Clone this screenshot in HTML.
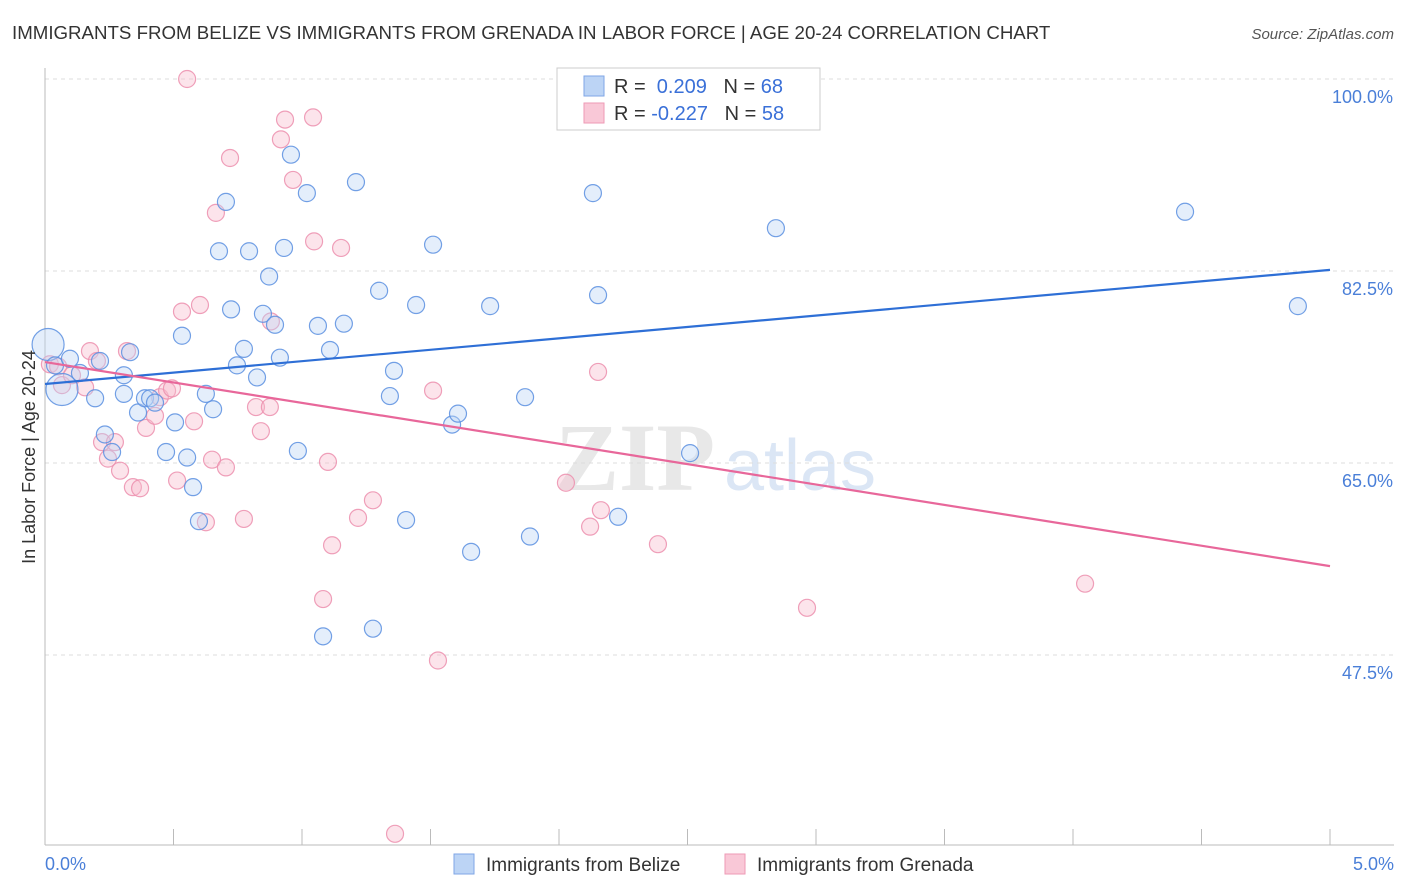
<!DOCTYPE html>
<html><head><meta charset="utf-8"><style>
body{margin:0;background:#fff;font-family:"Liberation Sans",sans-serif;}
#c{position:absolute;left:0;top:0;}
</style></head><body>
<svg id="c" width="1406" height="892" xmlns="http://www.w3.org/2000/svg">
<text x="12" y="39" font-size="18.7" fill="#333">IMMIGRANTS FROM BELIZE VS IMMIGRANTS FROM GRENADA IN LABOR FORCE | AGE 20-24 CORRELATION CHART</text>
<text x="1394" y="39" font-size="15" fill="#555" font-style="italic" text-anchor="end">Source: ZipAtlas.com</text>
<text x="635" y="490" font-size="96" fill="#e8e8e8" font-family="Liberation Serif,serif" font-weight="bold" text-anchor="middle">ZIP</text>
<text x="800" y="490" font-size="72" fill="#dbe6f5" text-anchor="middle">atlas</text>
<g id="grid"></g><g id="axes"></g><g id="pts"></g><g id="lines"></g>
<text x="35" y="457" font-size="18" fill="#333" text-anchor="middle" transform="rotate(-90 35 457)">In Labor Force | Age 20-24</text>
<text x="45" y="870" font-size="18" fill="#4a7fd8">0.0%</text>
<text x="1394" y="870" font-size="18" fill="#4a7fd8" text-anchor="end">5.0%</text>
<g>
<rect x="557" y="68" width="263" height="62" fill="#fff" stroke="#ccc"/>
<rect x="584" y="76" width="20" height="20" fill="#bcd4f5" stroke="#7fa6e6"/>
<rect x="584" y="103" width="20" height="20" fill="#f9c8d7" stroke="#ee9ab5"/>
<text x="614" y="93" font-size="20" fill="#333">R = <tspan fill="#3a70d8">&#160;0.209</tspan>&#160;&#160;&#160;N = <tspan fill="#3a70d8">68</tspan></text>
<text x="614" y="120" font-size="20" fill="#333">R = <tspan fill="#3a70d8">-0.227</tspan>&#160;&#160;&#160;N = <tspan fill="#3a70d8">58</tspan></text>
</g>
<g>
<rect x="454" y="854" width="20" height="20" fill="#bcd4f5" stroke="#7fa6e6"/>
<text x="486" y="871" font-size="19" fill="#333">Immigrants from Belize</text>
<rect x="725" y="854" width="20" height="20" fill="#f9c8d7" stroke="#ee9ab5"/>
<text x="757" y="871" font-size="19" fill="#333">Immigrants from Grenada</text>
</g>
</svg>
<script>
const yTicks=[100,82.5,65,47.5];
const yTickLabels=["100.0%","82.5%","65.0%","47.5%"];
const belizeX=[0.012,0.066,0.039,0.097,0.136,0.195,0.214,0.233,0.261,0.307,0.307,0.331,0.362,0.389,0.409,0.428,0.471,0.506,0.533,0.553,0.576,0.599,0.626,0.654,0.677,0.704,0.724,0.747,0.774,0.794,0.825,0.848,0.872,0.895,0.914,0.930,0.957,0.984,1.019,1.062,1.082,1.109,1.163,1.210,1.276,1.300,1.342,1.358,1.405,1.444,1.510,1.584,1.607,1.658,1.732,1.868,1.887,2.132,2.152,2.230,2.510,2.844,4.436,4.875,2.704];
const belizeY=[75.8,71.7,73.9,74.5,73.2,70.9,74.3,67.6,66.0,71.3,73.0,75.1,69.6,70.9,70.9,70.5,66.0,68.7,76.6,65.5,62.8,59.7,71.3,69.9,84.3,88.8,79.0,73.9,75.4,84.3,72.8,78.6,82.0,77.6,74.6,84.6,93.1,66.1,89.6,77.5,49.2,75.3,77.7,90.6,49.9,80.7,71.1,73.4,59.8,79.4,84.9,68.5,69.5,56.9,79.3,71.0,58.3,89.6,80.3,60.1,65.9,86.4,87.9,79.3,99.8];
const grenadaX=[0.019,0.051,0.066,0.105,0.156,0.175,0.202,0.222,0.245,0.272,0.292,0.319,0.342,0.370,0.393,0.428,0.447,0.475,0.494,0.514,0.533,0.553,0.580,0.603,0.626,0.650,0.665,0.704,0.720,0.774,0.821,0.840,0.875,0.879,0.918,0.934,0.965,1.043,1.047,1.082,1.101,1.117,1.152,1.218,1.276,1.362,1.510,1.529,2.027,2.121,2.152,2.163,2.385,2.965,4.047];
const grenadaY=[74.0,73.8,72.1,73.0,71.9,75.2,74.3,66.9,65.4,66.9,64.3,75.2,62.8,62.7,68.2,69.3,71.0,71.6,71.8,63.4,78.8,100,68.8,79.4,59.6,65.3,87.8,64.6,92.8,59.9,70.1,67.9,70.1,77.9,94.5,96.3,90.8,96.5,85.2,52.6,65.1,57.5,84.6,60.0,61.6,31.2,71.6,47.0,63.2,59.2,73.3,60.7,57.6,51.8,54.0];
// trend line [intercept at 0%, slope per 1%]
const belizeTrend=[72.2,2.08];
const grenadaTrend=[74.2,-3.72];
const X0=45,X1=1330,Y100=79,PXY=192/17.5,BOT=845;
const sx=v=>X0+(X1-X0)*v/5, sy=v=>Y100+(100-v)*PXY;
const NS="http://www.w3.org/2000/svg";
function mk(tag,attrs,parent){const e=document.createElementNS(NS,tag);for(const k in attrs)e.setAttribute(k,attrs[k]);parent.appendChild(e);return e;}
const grid=document.getElementById('grid'),axes=document.getElementById('axes'),pts=document.getElementById('pts'),lines=document.getElementById('lines');
yTicks.forEach((t,i)=>{
 const g=mk('line',{x1:X0,x2:1394,y1:sy(t),y2:sy(t),stroke:'#ddd','stroke-dasharray':'4,4'},grid);
 
 
 const tx=mk('text',{x:1393,y:sy(t)+24,'font-size':18,fill:'#4a7fd8','text-anchor':'end'},grid);
 tx.textContent=yTickLabels[i];
 
 
});
const ya=mk('line',{x1:X0,x2:X0,y1:68,y2:BOT,stroke:'#bbb'},axes);


const xa=mk('line',{x1:X0,x2:1394,y1:BOT,y2:BOT,stroke:'#bbb'},axes);


for(let i=0;i<=10;i++){const t=mk('line',{x1:sx(i*0.5),x2:sx(i*0.5),y1:BOT,y2:BOT-16,stroke:'#bbb'},axes);
 
 }
function dots(xs,ys,fill,stroke,name,bigIdx){xs.forEach((x,i)=>{
 const r=bigIdx.includes(i)?16:8.5;
 const c=mk('circle',{cx:sx(x),cy:sy(ys[i]),r:r,fill:fill,'fill-opacity':0.4,stroke:stroke,'stroke-width':1.2,'stroke-opacity':0.85},pts);
 
 });}
dots(grenadaX,grenadaY,'#f7bccd','#ec8fae','grenada-point',[]);
dots(belizeX,belizeY,'#bcd4f5','#5b8fe0','belize-point',[0,1]);
function tl(tr,col,name){const [b,s]=tr;const l=mk('line',{x1:sx(0),y1:sy(b),x2:sx(5),y2:sy(b+5*s),stroke:col,'stroke-width':2.2},lines);
 
 }
tl(belizeTrend,'#2e6fd6','belize-trend-line');
tl(grenadaTrend,'#e8679a','grenada-trend-line');
</script>
</body></html>
